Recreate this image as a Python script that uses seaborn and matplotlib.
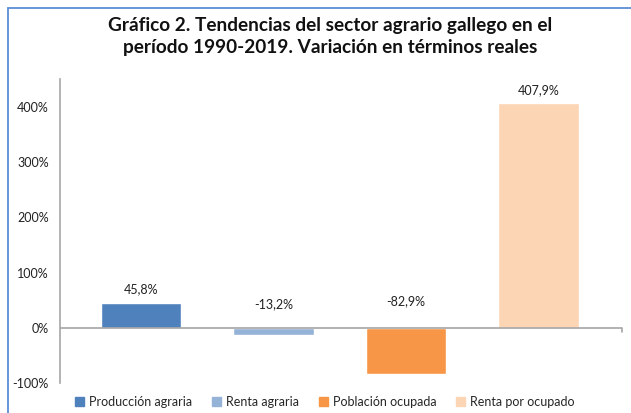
import matplotlib
matplotlib.use("Agg")
import matplotlib.pyplot as plt
import seaborn as sns
from matplotlib.patches import Rectangle

# Variación 1990-2019 (%)
categories = ["Producción agraria", "Renta agraria", "Población ocupada", "Renta por ocupado"]
values = [45.8, -13.2, -82.9, 407.9]
value_labels = ["45,8%", "-13,2%", "-82,9%", "407,9%"]
colors = ["#4F81BD", "#95B3D7", "#F79646", "#FCD5B5"]
yticks = [-100, 0, 100, 200, 300, 400]

sns.set_style("white")
plt.rcParams["font.family"] = ["Lato", "DejaVu Sans"]

fig = plt.figure(figsize=(6.31, 4.13), dpi=100)
ax = fig.add_axes([60 / 631, 1 - 383 / 413, (622 - 60) / 631, (383 - 79) / 413])

sns.barplot(x=categories, y=values, hue=categories, palette=colors, width=0.605,
            legend=False, ax=ax, saturation=1)

ax.set_ylim(-100, 451)
ax.set_xlim(-0.612, 3.63)
ax.set_yticks(yticks)
ax.set_yticklabels([f"{v}%" for v in yticks], fontsize=9, color="#222222")
ax.set_xticks([])
ax.set_xlabel("")
ax.set_ylabel("")
ax.tick_params(axis="y", length=0, pad=8)

for s in ["top", "right", "bottom"]:
    ax.spines[s].set_visible(False)
ax.spines["left"].set_color("#A6A6A6")
ax.spines["left"].set_linewidth(1.2)
ax.axhline(0, color="#A6A6A6", lw=1.2, zorder=3)
# small tick at the right end of the category axis
ax.plot([1, 1], [0, -7], transform=ax.get_yaxis_transform(), color="#A6A6A6", lw=1.2,
        clip_on=False)

for i, (v, lab) in enumerate(zip(values, value_labels)):
    if v >= 0:
        ax.annotate(lab, (i, v), xytext=(0, 5), textcoords="offset points",
                    ha="center", va="bottom", fontsize=9, color="#222222")
    else:
        ax.annotate(lab, (i, 0), xytext=(0, 13 + (2 if v < -50 else 0)),
                    textcoords="offset points", ha="center", va="bottom",
                    fontsize=9, color="#222222")

fig.text(0.523, 1 - 17 / 413, "Gráfico 2. Tendencias del sector agrario gallego en el\n"
         "período 1990-2019. Variación en términos reales",
         ha="center", va="top", fontsize=13.7, fontweight="bold", linespacing=1.38,
         color="#111111")

handles = [Rectangle((0, 0), 1, 1, color=c) for c in colors]
fig.legend(handles, categories, loc="center", bbox_to_anchor=(0.515, 1 - 402 / 413),
           ncol=4, frameon=False, fontsize=9, handlelength=0.7, handleheight=0.7,
           handletextpad=0.4, columnspacing=1.6)

fig.add_artist(Rectangle((8 / 631, -0.2), 1.2, 1.2 - 8 / 413, fill=False,
                         edgecolor="#5B8ED6", lw=1.3, transform=fig.transFigure))

fig.savefig("out.png", dpi=100)
